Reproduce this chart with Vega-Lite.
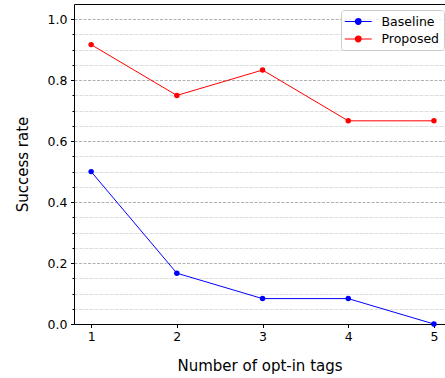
{
  "$schema": "https://vega.github.io/schema/vega-lite/v6.json",
  "width": 371,
  "height": 320,
  "autosize": "none",
  "padding": {"left": 74, "top": 4, "right": 0, "bottom": 54},
  "config": {"view": {"stroke": null}, "font": "DejaVu Sans"},
  "data": {"values": [
    {"tags": 1, "rate": 0.5, "method": "Baseline"},
    {"tags": 2, "rate": 0.1667, "method": "Baseline"},
    {"tags": 3, "rate": 0.0833, "method": "Baseline"},
    {"tags": 4, "rate": 0.0833, "method": "Baseline"},
    {"tags": 5, "rate": 0.0, "method": "Baseline"},
    {"tags": 1, "rate": 0.9167, "method": "Proposed"},
    {"tags": 2, "rate": 0.75, "method": "Proposed"},
    {"tags": 3, "rate": 0.8333, "method": "Proposed"},
    {"tags": 4, "rate": 0.6667, "method": "Proposed"},
    {"tags": 5, "rate": 0.6667, "method": "Proposed"}
  ]},
  "layer": [
    {
      "mark": {"type": "line", "strokeWidth": 1, "clip": false},
      "encoding": {
        "x": {"field": "tags", "type": "quantitative",
          "scale": {"domain": [0.8, 5.129], "nice": false, "zero": false},
          "axis": {"orient": "top", "domain": true, "domainColor": "#000", "domainWidth": 1, "ticks": false, "labels": false, "grid": false, "title": null}},
        "y": {"field": "rate", "type": "quantitative",
          "scale": {"domain": [0, 1.05], "nice": false},
          "axis": {"orient": "left", "values": [0.05, 0.1, 0.15, 0.25, 0.3, 0.35, 0.45, 0.5, 0.55, 0.65, 0.7, 0.75, 0.85, 0.9, 0.95],
            "grid": true, "gridColor": "#dedede", "gridDash": [4, 1], "gridWidth": 1,
            "domain": false, "labels": false, "ticks": true, "tickSize": 2, "tickColor": "#000", "tickWidth": 1, "title": null}},
        "color": {"field": "method", "type": "nominal",
          "scale": {"domain": ["Baseline", "Proposed"], "range": ["#0000ff", "#ff0000"]},
          "legend": {"orient": "none", "legendX": 267, "legendY": 6, "title": null,
            "symbolType": "M-1.15,0L2.85,0M0.43,0A0.42,0.42 0 1,1 1.27,0A0.42,0.42 0 1,1 0.43,0Z",
            "symbolSize": 182, "symbolStrokeWidth": 1.2,
            "labelFont": "DejaVu Sans", "labelFontSize": 12.5, "labelColor": "#000", "labelOffset": 21.5,
            "padding": 4, "rowPadding": 3.5,
            "fillColor": "rgba(255,255,255,0.8)", "strokeColor": "#cccccc", "cornerRadius": 3,
            "encode": {"symbols": {"update": {"fill": {"scale": "color", "field": "value"}, "fillOpacity": {"value": 1}}}}}}
      }
    },
    {
      "mark": {"type": "point", "filled": true, "size": 30, "opacity": 1, "clip": false},
      "encoding": {
        "x": {"field": "tags", "type": "quantitative",
          "scale": {"domain": [0.8, 5.129], "nice": false, "zero": false},
          "axis": {"orient": "bottom", "values": [1, 2, 3, 4, 5], "format": "d", "grid": false,
            "domain": true, "domainColor": "#000", "domainWidth": 1,
            "tickSize": 3.5, "tickColor": "#000", "tickWidth": 1,
            "labelFont": "DejaVu Sans", "labelFontSize": 12.5, "labelColor": "#000", "labelPadding": 2.5,
            "title": "Number of opt-in tags", "titleFont": "DejaVu Sans", "titleFontSize": 15, "titleFontWeight": "normal", "titleColor": "#000", "titlePadding": 16}},
        "y": {"field": "rate", "type": "quantitative",
          "scale": {"domain": [0, 1.05], "nice": false},
          "axis": {"orient": "left", "values": [0, 0.2, 0.4, 0.6, 0.8, 1.0], "format": ".1f",
            "grid": true, "gridColor": "#b0b0b0", "gridDash": [3, 1.5], "gridWidth": 1,
            "domain": true, "domainColor": "#000", "domainWidth": 1,
            "tickSize": 3.5, "tickColor": "#000", "tickWidth": 1,
            "labelFont": "DejaVu Sans", "labelFontSize": 12.5, "labelColor": "#000", "labelPadding": 3.5,
            "title": "Success rate", "titleFont": "DejaVu Sans", "titleFontSize": 15, "titleFontWeight": "normal", "titleColor": "#000", "titlePadding": 17}},
        "color": {"field": "method", "type": "nominal",
          "scale": {"domain": ["Baseline", "Proposed"], "range": ["#0000ff", "#ff0000"]},
          "legend": null}
      }
    }
  ],
  "resolve": {"axis": {"x": "independent", "y": "independent"}}
}
